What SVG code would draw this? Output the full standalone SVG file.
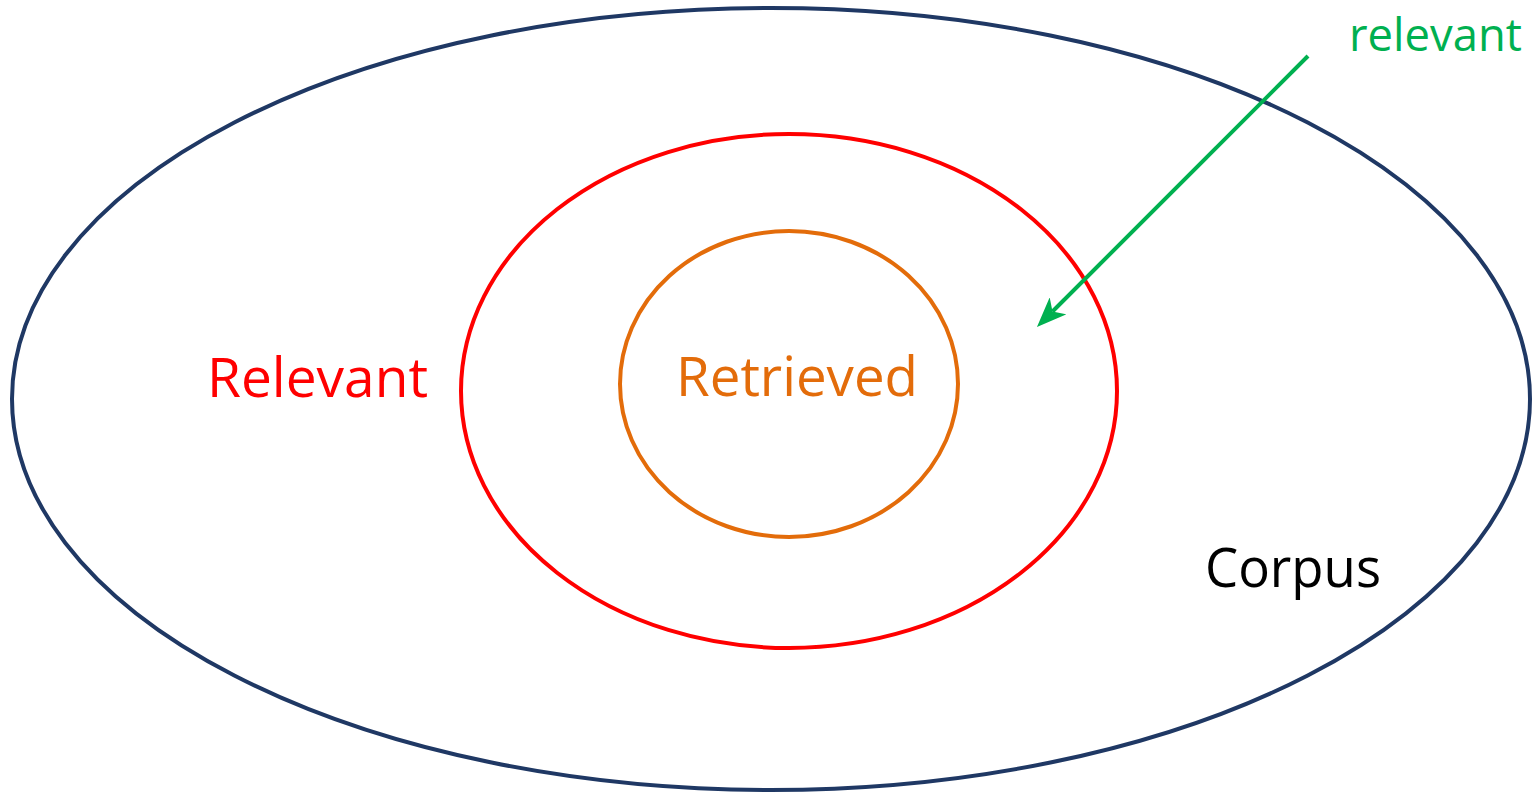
<svg xmlns="http://www.w3.org/2000/svg" width="1533" height="792" viewBox="0 0 1533 792">
  <style>
    .ring { fill: none; stroke-width: 4; }
    .label { font-family: "Open Sans", "Noto Sans", "Liberation Sans", sans-serif; }
  </style>
  <defs>
    <!-- notched arrowhead; the reference point sits in the notch so the shaft ends inside it -->
    <marker id="arrowhead" markerUnits="userSpaceOnUse" viewBox="0 0 30 24" refX="8" refY="12" markerWidth="30" markerHeight="24" orient="auto">
      <path d="M0,0 L30,12 L0,24 L8,12 Z" fill="#00B050"/>
    </marker>
  </defs>
  <rect width="1533" height="792" fill="#FFFFFF"/>

  <g id="corpus">
    <ellipse class="ring" cx="771" cy="399" rx="759" ry="391" stroke="#1F3864"/>
    <text class="label" x="1205" y="587" font-size="54" fill="#000000" textLength="176" lengthAdjust="spacingAndGlyphs">Corpus</text>
  </g>

  <g id="relevant">
    <ellipse class="ring" cx="789" cy="391" rx="328" ry="257" stroke="#FF0000"/>
    <text class="label" x="207" y="397" font-size="55" fill="#FF0000" textLength="221" lengthAdjust="spacingAndGlyphs">Relevant</text>
  </g>

  <g id="retrieved">
    <ellipse class="ring" cx="789" cy="384" rx="169" ry="153" stroke="#E36C0A"/>
    <text class="label" x="676" y="396" font-size="54" fill="#E36C0A" textLength="242" lengthAdjust="spacingAndGlyphs">Retrieved</text>
  </g>

  <g id="relevant-note">
    <text class="label" x="1349" y="51" font-size="45" fill="#00B050" textLength="173" lengthAdjust="spacingAndGlyphs">relevant</text>
  </g>

  <g id="connectors">
    <line x1="1308" y1="56" x2="1052.5" y2="311.5" stroke="#00B050" stroke-width="4" marker-end="url(#arrowhead)"/>
  </g>
</svg>
